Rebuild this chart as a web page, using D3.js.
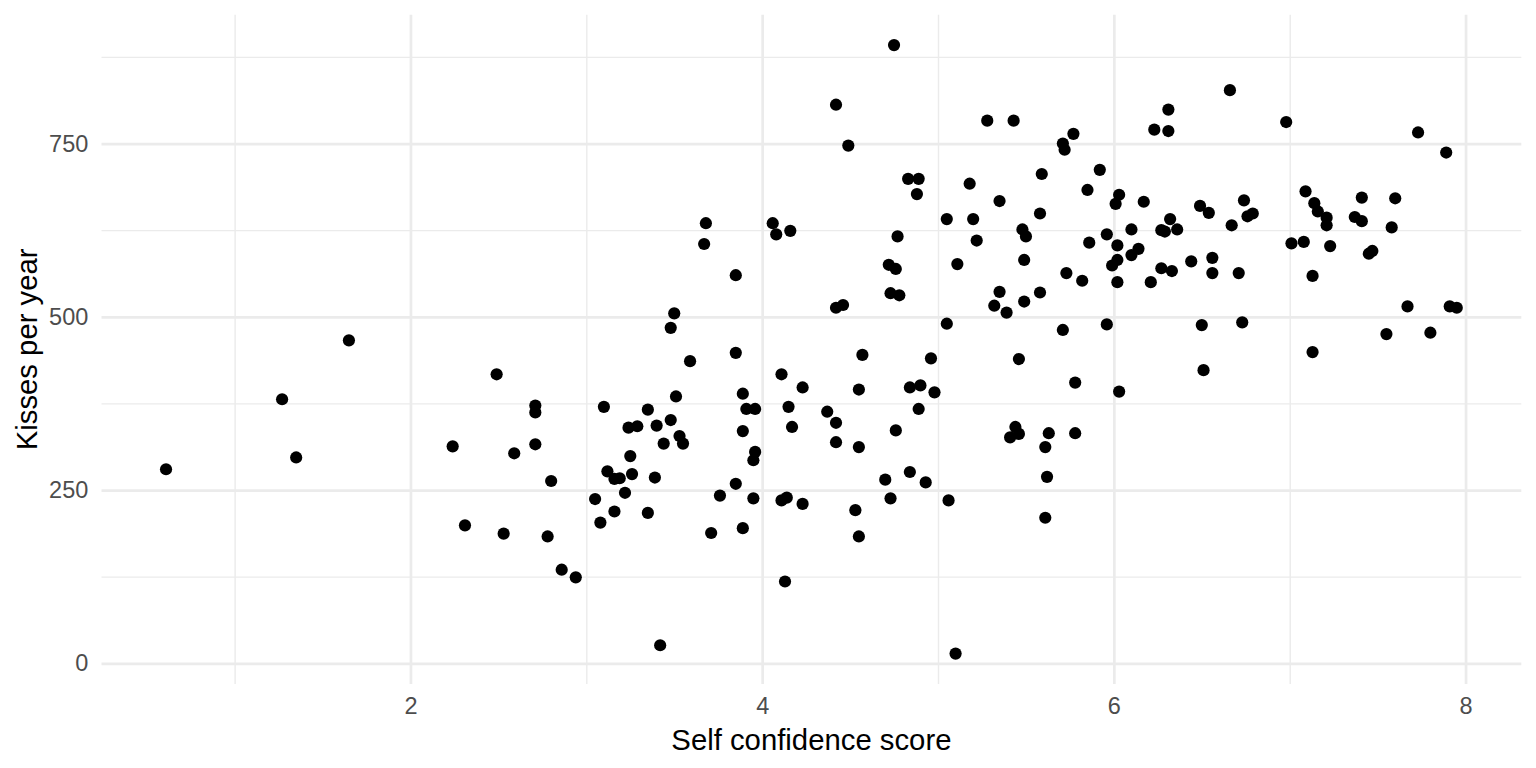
<!DOCTYPE html>
<html><head><meta charset="utf-8">
<script src="https://cdn.jsdelivr.net/npm/d3@7"></script>
<style>
html,body{margin:0;padding:0;background:#fff;}
svg{display:block;font-family:"Liberation Sans",Arial,Helvetica,sans-serif;}
</style>
</head><body>
<svg id="chart" width="1536" height="768"></svg>
<script>
// ---- data ----
const confidence = [
  1.65,1.27,1.35,0.61,2.24,2.31,
  3.85,3.50,3.48,3.85,3.59,2.49,4.11,4.23,3.51,3.89,2.71,2.71,3.10,3.35,3.91,3.96,4.15,4.17,3.24,3.29,3.40,3.48,3.89,3.53,3.55,3.44,2.71,2.59,3.25,3.96,3.95,2.80,3.12,3.16,3.19,3.26,3.39,3.85,3.22,3.05,3.76,3.95,4.11,4.14,4.23,3.16,3.35,3.08,2.53,2.78,3.71,3.89,2.86,2.94,4.13,3.42,
  3.68,3.67,4.06,4.08,4.16,
  4.75,4.42,4.49,5.28,5.43,5.77,5.71,5.72,4.83,4.89,4.88,5.92,5.59,5.18,5.85,6.03,6.01,5.35,5.05,5.20,5.58,4.77,5.22,5.48,5.50,5.96,6.10,5.86,6.02,6.10,6.02,5.99,5.49,4.72,4.76,5.11,5.73,5.82,6.02,4.73,4.78,5.35,5.58,4.42,4.46,5.32,5.39,5.49,5.05,5.71,5.96,
  4.57,4.96,5.46,4.55,4.84,4.90,4.98,5.78,6.03,4.37,4.42,4.89,4.76,4.42,4.55,5.44,5.41,5.46,5.63,5.78,5.61,5.62,4.70,4.84,4.93,4.53,4.73,5.06,5.61,4.55,5.10,
  6.66,6.31,6.23,6.31,6.98,7.73,7.89,6.17,6.49,6.54,6.74,6.76,6.79,6.32,6.27,6.29,6.36,6.67,6.14,7.09,7.14,7.16,7.21,7.21,7.41,7.60,7.37,7.41,7.58,7.01,7.08,7.23,7.45,7.47,7.13,6.44,6.56,6.56,6.27,6.33,6.21,6.71,6.50,6.73,7.13,7.55,7.80,7.67,7.91,7.95,6.51
];
const kisses = [
  466,381,297,280,313,199,
  560,505,484,448,436,417,417,398,385,389,372,362,370,366,367,367,370,341,340,342,343,351,335,328,317,317,316,303,299,305,293,263,277,266,267,273,268,259,246,237,242,238,235,239,230,219,217,203,187,183,188,195,135,124,118,26,
  635,605,635,619,624,
  892,806,747,783,783,764,750,741,699,699,677,712,706,692,683,676,663,667,641,641,649,616,610,626,616,619,626,607,603,589,582,574,582,575,569,576,563,552,550,534,531,536,535,513,517,516,506,522,490,481,489,
  445,440,439,395,398,401,391,405,392,363,347,367,336,319,312,341,326,331,332,332,312,269,265,276,261,221,238,235,210,183,14,
  827,799,770,768,781,766,737,666,660,650,668,645,649,641,625,623,626,632,598,681,664,652,643,632,672,671,644,638,629,606,608,602,591,595,559,580,585,563,570,566,550,563,488,492,449,475,477,515,515,513,423
];
const xMajorTicks = [2, 4, 6, 8];
const xMinorTicks = [1, 3, 5, 7];
const yMajorTicks = [0, 250, 500, 750];
const yMinorTicks = [125, 375, 625, 875];
const xTitle = "Self confidence score";
const yTitle = "Kisses per year";

// ---- layout ----
const W = 1536, H = 768;
const panel = {left: 101.5, right: 1521.3, top: 14.7, bottom: 684};
const expand = ext => { const d = (ext[1] - ext[0]) * 0.05; return [ext[0] - d, ext[1] + d]; };

const x = d3.scaleLinear().domain(expand(d3.extent(confidence))).range([panel.left, panel.right]);
const y = d3.scaleLinear().domain(expand(d3.extent(kisses))).range([panel.bottom, panel.top]);

const svg = d3.select("#chart");
svg.append("rect").attr("width", W).attr("height", H).attr("fill", "#fff");

const ph = panel.bottom - panel.top, pw = panel.right - panel.left;

function grid(axis, ticks, width, transform) {
  const g = svg.append("g").attr("transform", transform)
    .call(axis.tickValues(ticks).tickFormat("").tickSizeOuter(0));
  g.select(".domain").remove();
  g.selectAll(".tick line").attr("stroke", "#EBEBEB").attr("stroke-width", width);
  g.selectAll(".tick text").remove();
}
// minor grid
grid(d3.axisBottom(x).tickSizeInner(-ph), xMinorTicks, 1.4, `translate(0,${panel.bottom})`);
grid(d3.axisLeft(y).tickSizeInner(-pw), yMinorTicks, 1.4, `translate(${panel.left},0)`);
// major grid
grid(d3.axisBottom(x).tickSizeInner(-ph), xMajorTicks, 2.7, `translate(0,${panel.bottom})`);
grid(d3.axisLeft(y).tickSizeInner(-pw), yMajorTicks, 2.7, `translate(${panel.left},0)`);

// tick labels
const xa = svg.append("g").attr("transform", `translate(0,${panel.bottom})`)
  .call(d3.axisBottom(x).tickValues(xMajorTicks).tickSize(0).tickPadding(13.2).tickFormat(d3.format("d")));
xa.select(".domain").remove();
xa.selectAll("text").attr("font-size", "23.5px").attr("fill", "#4D4D4D")
  .attr("font-family", "'Liberation Sans',Arial,Helvetica,sans-serif");

const ya = svg.append("g").attr("transform", `translate(${panel.left},0)`)
  .call(d3.axisLeft(y).tickValues(yMajorTicks).tickSize(0).tickPadding(13.2).tickFormat(d3.format("d")));
ya.select(".domain").remove();
ya.selectAll("text").attr("font-size", "23.5px").attr("fill", "#4D4D4D")
  .attr("font-family", "'Liberation Sans',Arial,Helvetica,sans-serif");

// points
svg.append("g").selectAll("circle")
  .data(d3.range(confidence.length))
  .join("circle")
  .attr("cx", i => x(confidence[i]))
  .attr("cy", i => y(kisses[i]))
  .attr("r", 6.1)
  .attr("fill", "#000");

// axis titles
svg.append("text")
  .attr("x", (panel.left + panel.right) / 2).attr("y", 750)
  .attr("text-anchor", "middle").attr("font-size", "29.3px").attr("fill", "#000")
  .text(xTitle);
svg.append("text")
  .attr("transform", `translate(37,${(panel.top + panel.bottom) / 2}) rotate(-90)`)
  .attr("text-anchor", "middle").attr("font-size", "29.3px").attr("fill", "#000")
  .text(yTitle);
</script>
</body></html>
